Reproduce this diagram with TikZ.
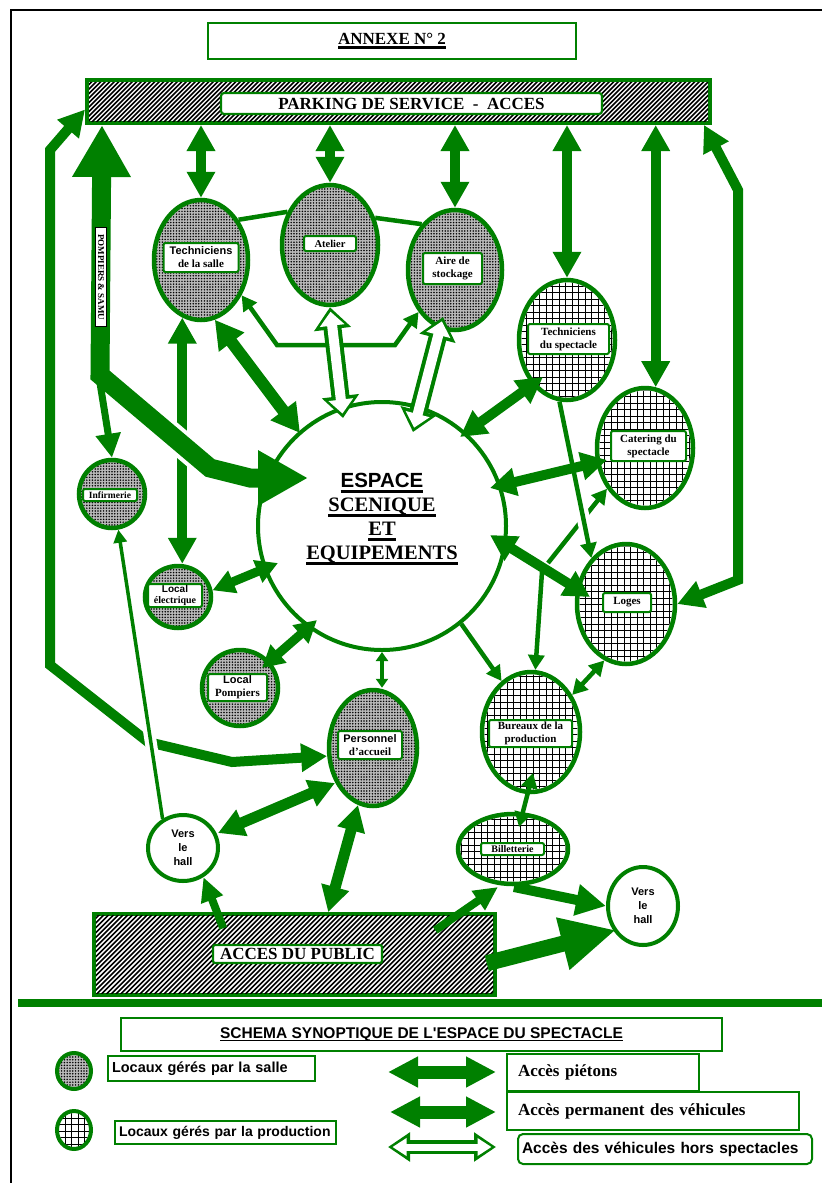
\documentclass[tikz,border=0pt]{standalone}
\usepackage{fontspec}
\setmainfont{Liberation Serif}
\setsansfont{Liberation Sans}
\usetikzlibrary{arrows.meta,patterns.meta,calc,shapes.geometric}
\definecolor{dg}{RGB}{0,128,0}
\newcommand\myul[3]{\setbox0\hbox{#3}\rlap{\rule[#2]{\wd0}{#1}}\box0}
\newcommand\gridin[3]{\begin{scope}\clip (#1.center) ellipse [x radius=#2, y radius=#3];
  \draw[black, line width=0.7pt, step=6.5pt] ($(#1.center)+(-62,-72)$) grid ($(#1.center)+(62,72)$);\end{scope}}
\tikzset{
  hdA/.tip={Triangle[width=27pt,length=26pt]},
  hdB/.tip={Triangle[width=30pt,length=28pt]},
  hdM/.tip={Triangle[width=23pt,length=22pt]},
  hdS/.tip={Triangle[width=16pt,length=15pt]},
  hdXS/.tip={Triangle[width=12pt,length=9pt]},
  hdT/.tip={Triangle[width=13pt,length=13pt]},
  hdI/.tip={Triangle[width=24pt,length=24pt]},
  hdE/.tip={Triangle[width=22pt,length=24pt]},
  hdF/.tip={Triangle[width=30pt,length=30pt]},
  hdX/.tip={Triangle[width=50pt,length=55pt]},
  hdPa/.tip={Triangle[width=55pt,length=52pt]},
  hdPb/.tip={Triangle[width=52pt,length=50pt]},
  hdLg/.tip={Triangle[width=29pt,length=30pt]},
  hoG/.tip={Triangle[width=36pt,length=22pt]},
  hoW/.tip={Triangle[width=24pt,length=14pt]},
  hoGs/.tip={Triangle[width=28pt,length=22pt]},
  hoWs/.tip={Triangle[width=17pt,length=14pt]},
  sal/.style={ellipse, draw=dg, line width=4.5pt, inner sep=0pt, preaction={fill=gray!55}, pattern={Dots[distance=2.8pt,radius=0.85pt]}, pattern color=black},
  prod/.style={ellipse, draw=dg, line width=4.5pt, inner sep=0pt, fill=white},
  hall/.style={ellipse, draw=dg, line width=4pt, fill=white, inner sep=0pt, align=center, font=\sffamily\bfseries\fontsize{11}{14}\selectfont},
  hatchbox/.style={draw=dg, line width=4pt, inner sep=0pt, fill=white},
  hline/.style={black, line width=1.6pt},
  lbl/.style={draw=dg, line width=2pt, fill=white, rounded corners=2pt, align=center, inner sep=1pt, font=\bfseries\fontsize{11}{13}\selectfont},
  gbox/.style={draw=dg, line width=2pt, fill=white, inner sep=2pt},
  cA/.style={dg, line width=10pt, arrows={hdA-hdA}},
  cB/.style={dg, line width=12pt, arrows={hdB-hdB}},
  cB2/.style={dg, line width=11pt, arrows={hdA-hdA}},
  cM/.style={dg, line width=9pt, arrows={hdM-hdM}},
  cL/.style={dg, line width=10pt, arrows={hdA-hdA}},
  cT/.style={dg, line width=4.5pt},
  cTd/.style={dg, line width=4.5pt, arrows={hdS-hdS}},
  cTs/.style={dg, line width=4.5pt, arrows={-hdS}},
  cTr/.style={dg, line width=4.5pt, arrows={hdS-}},
  cTh/.style={dg, line width=3.5pt, arrows={-hdT}},
  cI/.style={dg, line width=7pt, arrows={-hdI}},
  cE/.style={dg, line width=8pt, arrows={-hdE}},
  cF/.style={dg, line width=10pt, arrows={-hdF}},
  cX/.style={dg, line width=16pt, arrows={-hdX}},
  cPo/.style={dg, line width=19pt, arrows={hdPa-hdPb}},
  cLg/.style={dg, line width=13pt, arrows={hdLg-hdLg}},
  hoOut/.style={dg, line width=18pt, arrows={hoG-hoG}},
  hoIn/.style={white, line width=10pt, shorten <=4.5pt, shorten >=4.5pt, arrows={hoW-hoW}},
  hoOutS/.style={dg, line width=14pt, arrows={hoGs-hoGs}},
  hoInS/.style={white, line width=7pt, shorten <=4.5pt, shorten >=4.5pt, arrows={hoWs-hoWs}},
  halo/.style={white, line width=12pt}
}
\begin{document}
\begin{tikzpicture}[x=1pt,y=-1pt]
\useasboundingbox (0,0) rectangle (822,1183);
\draw[black, line width=1.6pt] (11,1183) -- (11,10) -- (822,10);

% ---------- nodes ----------
\node[gbox, line width=2.5pt, minimum width=368pt, minimum height=36pt, font=\bfseries\fontsize{17}{19}\selectfont] (annexe) at (392,41) {\myul{2.5pt}{-4.5pt}{ANNEXE N° 2}};
\node[hatchbox, minimum width=623pt, minimum height=43pt] (parking) at (398.5,101.5) {};
\begin{scope}
\clip ($(parking.south west)+(4,-4)$) rectangle ($(parking.north east)+(-4,4)$);
\draw[hline] \foreach \hx in {30,34.5,...,720} {(\hx,130) -- ++(55,-55)};
\end{scope}

\node[sal, minimum width=94pt, minimum height=120pt] (tsalle) at (201,260) {};
\node[sal, minimum width=96pt, minimum height=120pt] (atelier) at (330,245) {};
\node[sal, minimum width=94pt, minimum height=120pt] (aire) at (455,270) {};
\node[prod, minimum width=96pt, minimum height=120pt] (tspec) at (567,340) {};
\gridin{tspec}{45.5pt}{57.5pt}
\node[prod, minimum width=96pt, minimum height=120pt] (catering) at (645,448) {};
\gridin{catering}{45.5pt}{57.5pt}
\node[prod, minimum width=98pt, minimum height=120pt] (loges) at (626,604) {};
\gridin{loges}{46.5pt}{57.5pt}
\node[prod, minimum width=98pt, minimum height=120pt] (bureaux) at (531,732) {};
\gridin{bureaux}{46.5pt}{57.5pt}
\node[prod, minimum width=110pt, minimum height=70pt] (billet) at (513,849) {};
\gridin{billet}{52.5pt}{32.5pt}
\node[sal, minimum width=66pt, minimum height=68pt] (infirm) at (112,494) {};
\node[sal, minimum width=66pt, minimum height=62pt] (lelec) at (178,597) {};
\node[sal, minimum width=76pt, minimum height=76pt] (lpomp) at (240,688) {};
\node[sal, minimum width=88pt, minimum height=116pt] (accueil) at (373,748) {};
\node[hall, minimum width=70pt, minimum height=66pt] (hallL) at (183,848) {Vers\\le\\hall};
\node[hall, minimum width=70pt, minimum height=78pt] (hallR) at (643,906) {Vers\\le\\hall};
\node[hatchbox, line width=3.5pt, minimum width=401pt, minimum height=81pt] (public) at (294.5,954.5) {};
\begin{scope}
\clip ($(public.south west)+(3.5,-3.5)$) rectangle ($(public.north east)+(-3.5,3.5)$);
\draw[hline] \foreach \hx in {-10,-5.2,...,500} {(\hx,1000) -- ++(95,-95)};
\end{scope}
\node[circle, draw=dg, line width=4pt, fill=white, minimum size=248pt, inner sep=0pt] (espace) at (382,526) {};

% ---------- connectors ----------
\draw[cA] (tsalle.north |- parking.south) -- (tsalle.north);
\draw[cA] (atelier.north |- parking.south) -- (atelier.north);
\draw[cA] (aire.north |- parking.south) -- (aire.north);
\draw[cA] (tspec.north |- parking.south) -- (tspec.north);
\draw[cA] (catering.80 |- parking.south) -- (catering.80);

% right loop
\draw[cL] ([xshift=-8pt]parking.south east) -- (738,190) -- (738,580) -- (loges.east);
% left loop
\draw[cL] ([yshift=-8pt]parking.west) -- (50,150) -- (50,665) -- (148,742) -- (232,762) -- (accueil.190);

% techniciens salle <-> local electrique
\draw[cA] (tsalle.-108) -- (tsalle.-108 |- lelec.north);

% pompiers & samu
\draw[white, line width=27pt] (158,424) -- (204,463);
\draw[cPo] ([xshift=17pt]parking.south west) -- (100,375) -- (210,468) -- (250,478) -- ($(espace.center)+(-74,-48)$);
\coordinate (pj) at (100,383);
\draw[cI] (pj) -- (infirm.north);

% techniciens salle <-> espace
\draw[cB] (tsalle.-77) -- ($(espace.center)+(-82,-93)$);
% salle / atelier / aire
\draw[cT] (tsalle.47) -- (atelier.142);
\draw[cT] (atelier.31) -- (aire.126);
\draw[cTd] (tsalle.-41) -- (277,345) -- (395,345) -- (aire.229);

% hollow arrows
\draw[hoOut] (atelier.south) -- ($(espace.center)+(-39,-108)$);
\draw[hoIn] (atelier.south) -- ($(espace.center)+(-39,-108)$);
\draw[hoOut] ($(aire.center)+(-12,47)$) -- ($(espace.center)+(31,-94)$);
\draw[hoIn] ($(aire.center)+(-12,47)$) -- ($(espace.center)+(31,-94)$);

% production side
\draw[cA] ($(tspec.center)+(-24,37)$) -- ($(espace.center)+(78,-89)$);
\draw[cA] ($(catering.center)+(-38,12)$) -- ($(espace.center)+(108,-38)$);
\draw[cA] ($(loges.center)+(-36,-7)$) -- ($(espace.center)+(108,9)$);
\draw[cTr] (catering.-133) -- ($(espace.center)+(166,37)$);
\draw[white, line width=13pt] (581.6,510) -- (585.5,529);
\draw[cTs] (tspec.-97) -- (loges.127);
\draw[cTs] ($(espace.center)+(160,46)$) -- (bureaux.86);
\draw[cTs] (espace.-51) -- (bureaux.120);
\draw[cTd] (loges.-111) -- (bureaux.42);
\draw[cTd] ($(bureaux.center)+(2,41)$) -- ($(billet.center)+(6,-22)$);

% espace <-> accueil, locals
\draw[dg, line width=4.5pt, arrows={hdXS-hdXS}] (espace.south) -- (espace.south |- accueil.north);
\draw[cM] (lelec.11) -- ($(espace.center)+(-104,37)$);
\draw[cM] ($(lpomp.center)+(22,-20)$) -- ($(espace.center)+(-65,94)$);

% vers le hall -> infirmerie
\draw[halo] (148.6,728) -- (153.2,758);
\draw[cTh] (hallL.125) -- (infirm.-80);

% public side
\draw[cB2] ($(accueil.center)+(-38,35)$) -- ($(hallL.center)+(35,-15)$);
\draw[cB2] ($(accueil.center)+(-15,57)$) -- ([xshift=236pt]public.north west);
\draw[cE] ($(public.north west)+(131,16)$) -- (hallL.-55);
\draw[cE] ($(public.north west)+(343,18)$) -- ($(billet.center)+(-15,38)$);
\draw[cF] ($(billet.center)+(1,38)$) -- (hallR.west);
\draw[cX] ($(public.north east)+(-10,51)$) -- ($(hallR.center)+(-27,24)$);

% ---------- labels ----------
\node[lbl, rounded corners=3pt, line width=2.2pt, minimum width=381pt, minimum height=21pt, font=\bfseries\fontsize{17}{19}\selectfont] (parkingL) at (411.5,103.5) {PARKING DE SERVICE~~-~~ACCES};
\node[lbl, minimum width=75pt, minimum height=29pt] (tsalleL) at (201,257.5) {{\sffamily Techniciens}\\de la salle};
\node[lbl, minimum width=52pt, minimum height=15pt, font=\bfseries\fontsize{10.5}{12}\selectfont] (atelierL) at (330,243.5) {Atelier};
\node[lbl, minimum width=59pt, minimum height=31pt] (aireL) at (452.5,268.5) {Aire de\\stockage};
\node[lbl, minimum width=81pt, minimum height=30pt] (tspecL) at (568.5,339) {Techniciens\\du spectacle};
\node[lbl, minimum width=75pt, minimum height=30pt] (cateringL) at (648.5,446) {Catering du\\spectacle};
\node[lbl, minimum width=48pt, minimum height=19pt] (logesL) at (627,602.5) {Loges};
\node[lbl, minimum width=83pt, minimum height=27pt] (bureauxL) at (530.5,733.5) {Bureaux de la\\production};
\node[lbl, minimum width=63pt, minimum height=12pt, font=\bfseries\fontsize{10}{11}\selectfont] (billetL) at (512.5,849) {Billetterie};
\node[lbl, minimum width=54pt, minimum height=12pt, font=\bfseries\fontsize{9.5}{11}\selectfont] (infirmL) at (110,495) {Infirmerie};
\node[lbl, minimum width=54pt, minimum height=23pt, font=\bfseries\fontsize{10}{11.5}\selectfont] (lelecL) at (175,595.5) {{\sffamily Local}\\électrique};
\node[lbl, minimum width=59pt, minimum height=27pt] (lpompL) at (237.5,687.5) {{\sffamily Local}\\Pompiers};
\node[lbl, minimum width=64pt, minimum height=28pt] (accueilL) at (370,745) {{\sffamily Personnel}\\d'accueil};
\node[draw=black, line width=0.8pt, fill=white, rotate=-90, inner sep=1pt, minimum width=99pt, minimum height=11pt, font=\bfseries\fontsize{9}{10}\selectfont] (pompL) at (101,277) {POMPIERS \& SAMU};
\node[lbl, line width=2.2pt, minimum width=169pt, minimum height=18pt, font=\bfseries\fontsize{17}{19}\selectfont] (publicL) at (297.5,954) {ACCES DU PUBLIC};
\node[align=center, inner sep=0pt, font=\bfseries\fontsize{20.5}{24}\selectfont] (espaceT) at (382,519) {\myul{3pt}{-6pt}{\sffamily ESPACE}\\\myul{3pt}{-6pt}{SCENIQUE}\\\myul{3pt}{-6pt}{ET}\\\myul{3pt}{-6pt}{EQUIPEMENTS}};

% ---------- legend ----------
\draw[dg, line width=8pt] (18,1003) -- (822,1003);
\node[gbox, minimum width=601pt, minimum height=33pt, font=\sffamily\bfseries\fontsize{15.5}{17}\selectfont] (title) at (421.5,1034.5) {\myul{1.5pt}{-3pt}{SCHEMA SYNOPTIQUE DE L\textquotesingle ESPACE DU SPECTACLE}};
\node[sal, line width=4pt, minimum width=34pt, minimum height=36pt] (lgS) at (74,1071) {};
\node[prod, line width=4pt, minimum width=34pt, minimum height=38pt] (lgP) at (74,1130) {};
\gridin{lgP}{15pt}{17pt}
\node[gbox, text width=199pt, minimum height=25pt, align=left, inner sep=4pt, font=\sffamily\bfseries\fontsize{14.5}{16}\selectfont] (lgSbox) at (211.5,1068.5) {\mbox{Locaux gérés par la salle}};
\node[gbox, text width=213pt, minimum height=23pt, align=left, inner sep=4pt, font=\sffamily\bfseries\fontsize{14}{16}\selectfont] (lgPbox) at (225.5,1132.5) {\mbox{Locaux gérés par la production}};
\node[gbox, text width=170pt, minimum height=29pt, align=left, inner sep=11pt, font=\bfseries\fontsize{17}{19}\selectfont] (lgAbox) at (603,1072.5) {\mbox{Accès piétons}};
\node[gbox, text width=270pt, minimum height=30pt, align=left, inner sep=11pt, font=\bfseries\fontsize{17}{19}\selectfont] (lgBbox) at (653,1111) {\mbox{Accès permanent des véhicules}};
\node[gbox, rounded corners=5pt, text width=286pt, minimum height=30pt, align=left, inner sep=4pt, font=\sffamily\bfseries\fontsize{15.5}{17}\selectfont] (lgCbox) at (665,1149) {\mbox{Accès des véhicules hors spectacles}};
\coordinate (la1) at (388,1072);
\coordinate (la2) at (496,1072);
\coordinate (lb1) at (390,1112);
\coordinate (lb2) at (496,1112);
\coordinate (lc1) at (388,1147);
\coordinate (lc2) at (496,1147);
\draw[cLg] (la1) -- (la2);
\draw[cLg] (lb1) -- (lb2);
\draw[hoOutS] (lc1) -- (lc2);
\draw[hoInS] (lc1) -- (lc2);
\end{tikzpicture}
\end{document}
